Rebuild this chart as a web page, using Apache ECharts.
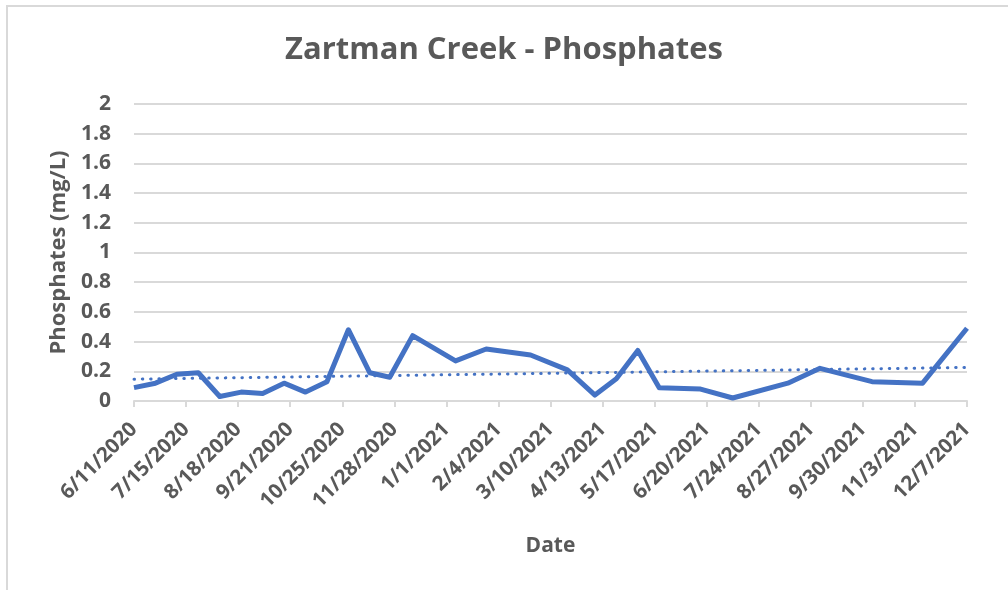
<!DOCTYPE html>
<html>
<head>
<meta charset="utf-8">
<script src="https://cdn.jsdelivr.net/npm/echarts@6/dist/echarts.min.js"></script>
<style>
html,body{margin:0;padding:0;background:#fff;}
#c{width:1008px;height:590px;}
</style>
</head>
<body>
<div id="c"></div>
<script>
// ---- data ----
const sampleDates = ["6/11/2020","6/25/2020","7/9/2020","7/23/2020","8/6/2020","8/20/2020","9/3/2020","9/17/2020","10/1/2020","10/15/2020","10/29/2020","11/12/2020","11/25/2020","12/10/2020","1/7/2021","1/27/2021","2/25/2021","3/21/2021","4/8/2021","4/22/2021","5/6/2021","5/20/2021","6/16/2021","7/7/2021","8/12/2021","9/2/2021","10/6/2021","11/8/2021","12/7/2021"];
const phosphates = [0.09,0.12,0.18,0.19,0.03,0.06,0.05,0.12,0.06,0.13,0.48,0.19,0.16,0.44,0.27,0.35,0.31,0.21,0.04,0.15,0.34,0.09,0.08,0.02,0.12,0.22,0.13,0.12,0.49];
const xTickLabels = ["6/11/2020","7/15/2020","8/18/2020","9/21/2020","10/25/2020","11/28/2020","1/1/2021","2/4/2021","3/10/2021","4/13/2021","5/17/2021","6/20/2021","7/24/2021","8/27/2021","9/30/2021","11/3/2021","12/7/2021"];
const yTickLabels = ["0","0.2","0.4","0.6","0.8","1","1.2","1.4","1.6","1.8","2"];

// ---- helpers ----
function toDay(s){const p=s.split('/').map(Number);return Date.UTC(p[2],p[0]-1,p[1])/86400000;}
const day0 = toDay(xTickLabels[0]);
const dayEnd = toDay(xTickLabels[xTickLabels.length-1]);
const step = toDay(xTickLabels[1]) - day0;
const pts = sampleDates.map((d,i)=>[toDay(d)-day0, phosphates[i]]);

// linear trendline (least squares)
const n = pts.length;
let sx=0,sy=0,sxx=0,sxy=0;
pts.forEach(p=>{sx+=p[0];sy+=p[1];sxx+=p[0]*p[0];sxy+=p[0]*p[1];});
const slope=(n*sxy-sx*sy)/(n*sxx-sx*sx);
const icpt=(sy-slope*sx)/n;
const span = dayEnd-day0;
const trend=[[0,icpt],[span,icpt+slope*span]];

const FONT = '"Open Sans", "Noto Sans", sans-serif';
const TXT = '#595959';
const chart = echarts.init(document.getElementById('c'));
chart.setOption({
  animation:false,
  backgroundColor:'#fff',
  graphic:[{type:'rect',shape:{x:7,y:6,width:1200,height:800},style:{fill:'none',stroke:'#d9d9d9',lineWidth:2},silent:true}],
  title:{text:'Zartman Creek - Phosphates',left:'center',top:30,
    textStyle:{fontFamily:FONT,fontWeight:'bold',fontSize:31,color:TXT}},
  grid:{left:134,right:41,top:104,bottom:189,containLabel:false},
  xAxis:{type:'value',min:0,max:span,interval:step,
    name:'Date',nameLocation:'middle',nameGap:135,
    nameTextStyle:{fontFamily:FONT,fontWeight:'bold',fontSize:21,color:TXT},
    axisLine:{show:true,lineStyle:{color:'#d9d9d9',width:2}},
    axisTick:{show:true,length:6,lineStyle:{color:'#d9d9d9',width:2}},
    splitLine:{show:false},
    axisLabel:{rotate:45,margin:25,fontFamily:FONT,fontWeight:'bold',fontSize:20.5,color:TXT,
      formatter:function(v){const i=Math.round(v/step);return xTickLabels[i]||'';}}
  },
  yAxis:{type:'value',min:0,max:2,interval:0.2,
    name:'Phosphates (mg/L)',nameLocation:'middle',nameGap:64,
    nameTextStyle:{fontFamily:FONT,fontWeight:'bold',fontSize:22,color:TXT},
    axisLine:{show:false},axisTick:{show:false},
    splitLine:{show:true,lineStyle:{color:'#d9d9d9',width:2}},
    axisLabel:{margin:23,fontFamily:FONT,fontWeight:'bold',fontSize:21,color:TXT,
      formatter:function(v){return yTickLabels[Math.round(v/0.2)];}}
  },
  series:[
    {type:'line',data:pts,symbol:'none',lineStyle:{color:'#4472C4',width:5,join:'round'},z:3},
    {type:'line',data:trend,symbol:'none',lineStyle:{color:'#4472C4',width:3,type:[0.5,7.8],cap:'round'},z:2}
  ]
});
</script>
</body>
</html>
